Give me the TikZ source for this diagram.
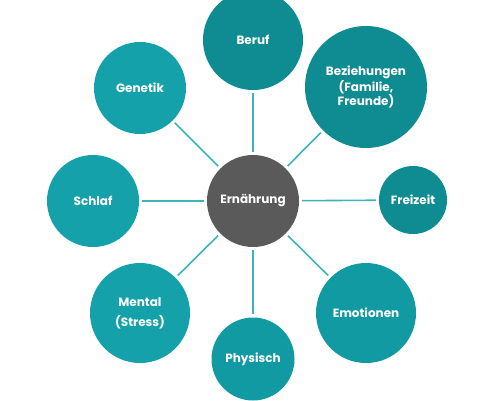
\documentclass[tikz,border=0pt]{standalone}
\usepackage{fontspec}
\setmainfont{Poppins}
\definecolor{tealA}{HTML}{0F8B92}
\definecolor{tealB}{HTML}{14A1AA}
\definecolor{tealC}{HTML}{129AA2}
\definecolor{grayC}{HTML}{5A5A5A}
\definecolor{linkC}{HTML}{3DB3BC}
\begin{document}
\begin{tikzpicture}[x=1pt,y=-1pt,
  bub/.style={circle,inner sep=0pt,text=white,font=\bfseries\fontsize{12}{14}\selectfont,align=center},
  link/.style={draw=linkC,line width=1.6pt,shorten >=3pt,shorten <=3pt}]
\useasboundingbox (0,0) rectangle (495,400);
\node[bub,fill=grayC,minimum size=92pt] (ern) at (253,201) {Ernährung};
\node[bub,fill=tealA,minimum size=100pt] (beruf) at (253,40) {Beruf};
\node[bub,fill=tealB,minimum size=92pt] (gen) at (140,88) {Genetik};
\node[bub,fill=tealA,minimum size=122pt] (bez) at (366,87) {Beziehungen\\(Familie,\\Freunde)};
\node[bub,fill=tealB,minimum size=92pt] (schlaf) at (93,201) {Schlaf};
\node[bub,fill=tealA,minimum size=68pt] (frei) at (413,200) {Freizeit};
\node[bub,fill=tealB,minimum size=100pt] (mental) at (140,313) {Mental\\[6pt](Stress)};
\node[bub,fill=tealC,minimum size=83pt] (phys) at (253,359) {Physisch};
\node[bub,fill=tealC,minimum size=100pt] (emo) at (366,313) {Emotionen};
\foreach \n in {beruf,gen,bez,schlaf,frei,mental,phys,emo}
  \draw[link] (ern) -- (\n);
\end{tikzpicture}
\end{document}
